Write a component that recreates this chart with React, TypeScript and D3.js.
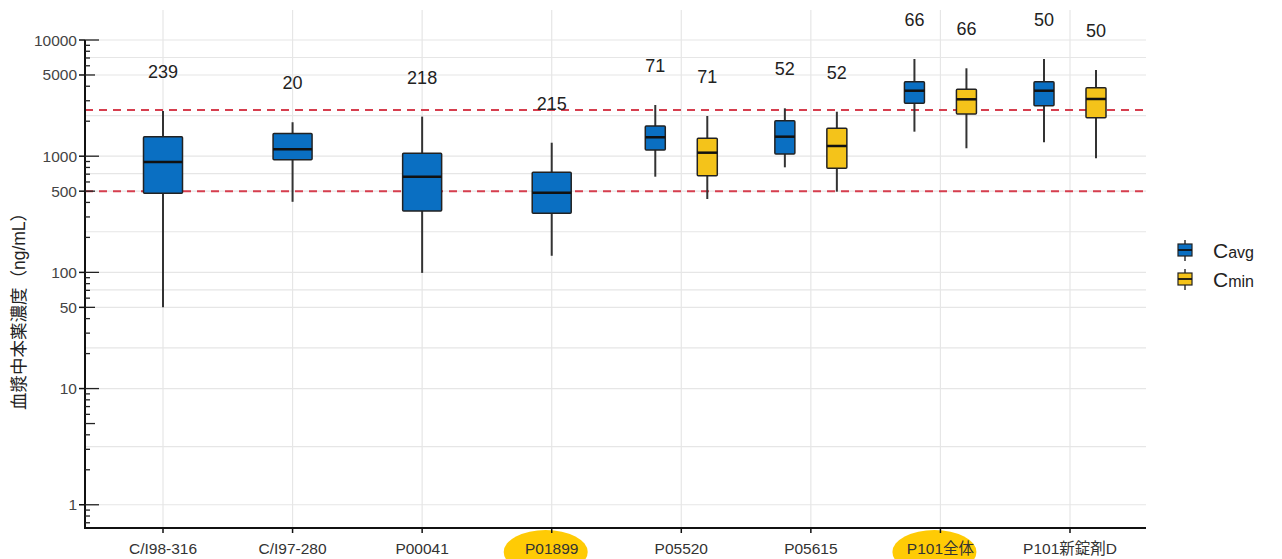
import React, { useEffect, useRef } from 'react';
import * as d3 from 'd3';

// categories on the x axis
const categories = [
  'C/I98-316',
  'C/I97-280',
  'P00041',
  'P01899',
  'P05520',
  'P05615',
  'P101全体',
  'P101新錠剤D',
];

// highlighted labels (yellow ellipse behind)
const highlighted = ['P01899', 'P101全体'];

// [min, q1, median, q3, max] per category
const cavgStats: number[][] = [
  [50, 480, 890, 1470, 2450],
  [405, 930, 1150, 1570, 1960],
  [99, 338, 666, 1060, 2190],
  [139, 323, 485, 727, 1306],
  [666, 1131, 1455, 1820, 2759],
  [802, 1045, 1472, 2022, 2583],
  [1626, 2853, 3661, 4375, 6864],
  [1317, 2721, 3661, 4375, 6864],
];

const cminStats: (number[] | null)[] = [
  null,
  null,
  null,
  null,
  [428, 680, 1072, 1426, 2218],
  [495, 787, 1224, 1738, 2414],
  [1170, 2308, 3088, 3764, 5708],
  [959, 2145, 3107, 3886, 5520],
];

const cavgN = [239, 20, 218, 215, 71, 52, 66, 50];
const cminN: (number | null)[] = [null, null, null, null, 71, 52, 66, 50];

// y axis breaks and reference lines
const yTickValues = [1, 10, 50, 100, 500, 1000, 5000, 10000];
const refLines = [500, 2500];

const legendItems = [
  { head: 'C', tail: 'avg', color: '#0a6fc2' },
  { head: 'C', tail: 'min', color: '#f4c31a' },
];

const BLUE = '#0a6fc2';
const YELLOW = '#f4c31a';
const FONT = '"Liberation Sans", Arial, "Noto Sans CJK JP", sans-serif';

const BoxChart: React.FC = () => {
  const svgRef = useRef<SVGSVGElement>(null);

  useEffect(() => {
    if (!svgRef.current) return;
    const width = 1282;
    const height = 559;
    const left = 85;
    const right = 1146;
    const top = 40;
    const bottom = 528;

    const svg = d3.select(svgRef.current).attr('width', width).attr('height', height);
    svg.selectAll('*').remove();

    const y = d3.scaleLog().domain([Math.pow(10, -0.2), 10000]).range([bottom, top]);
    const x = d3.scalePoint<string>().domain(categories).range([163, 1070]);

    // minor grid at midpoints (log space) between breaks
    const logBreaks = yTickValues.map((v) => Math.log10(v));
    const minorGrid = logBreaks.slice(1).map((b, i) => Math.pow(10, (b + logBreaks[i]) / 2));

    const grid = svg.append('g').attr('stroke', '#e6e6e6').attr('stroke-width', 1.2);
    grid
      .selectAll('.h')
      .data([...yTickValues, ...minorGrid])
      .enter()
      .append('line')
      .attr('x1', left)
      .attr('x2', right)
      .attr('y1', (d) => y(d))
      .attr('y2', (d) => y(d));
    grid
      .selectAll('.v')
      .data(categories)
      .enter()
      .append('line')
      .attr('x1', (d) => x(d) ?? 0)
      .attr('x2', (d) => x(d) ?? 0)
      .attr('y1', 10)
      .attr('y2', bottom);

    // reference lines
    svg
      .append('g')
      .selectAll('line')
      .data(refLines)
      .enter()
      .append('line')
      .attr('x1', left)
      .attr('x2', right)
      .attr('y1', (d) => y(d))
      .attr('y2', (d) => y(d))
      .attr('stroke', '#d63e4e')
      .attr('stroke-width', 2)
      .attr('stroke-dasharray', '8,6');

    // boxes
    const drawBox = (cx: number, w: number, s: number[], fill: string) => {
      const g = svg.append('g');
      g.append('line')
        .attr('x1', cx)
        .attr('x2', cx)
        .attr('y1', y(s[0]))
        .attr('y2', y(s[4]))
        .attr('stroke', '#333')
        .attr('stroke-width', 2);
      g.append('rect')
        .attr('x', cx - w / 2)
        .attr('y', y(s[3]))
        .attr('width', w)
        .attr('height', y(s[1]) - y(s[3]))
        .attr('rx', 1)
        .attr('fill', fill)
        .attr('stroke', '#222')
        .attr('stroke-width', 1.5);
      g.append('line')
        .attr('x1', cx - w / 2)
        .attr('x2', cx + w / 2)
        .attr('y1', y(s[2]))
        .attr('y2', y(s[2]))
        .attr('stroke', '#111')
        .attr('stroke-width', 2.5);
    };

    const drawN = (cx: number, hi: number, n: number) => {
      svg
        .append('text')
        .attr('x', cx)
        .attr('y', y(hi) - 33)
        .attr('text-anchor', 'middle')
        .attr('font-family', FONT)
        .attr('font-size', 18)
        .attr('fill', '#222')
        .text(n);
    };

    categories.forEach((c, i) => {
      const cx = x(c) ?? 0;
      const cmin = cminStats[i];
      if (cmin) {
        drawBox(cx - 26, 20, cavgStats[i], BLUE);
        drawBox(cx + 26, 20, cmin, YELLOW);
        drawN(cx - 26, cavgStats[i][4], cavgN[i]);
        drawN(cx + 26, cmin[4], cminN[i] as number);
      } else {
        drawBox(cx, 39, cavgStats[i], BLUE);
        drawN(cx, cavgStats[i][4], cavgN[i]);
      }
    });

    // y axis
    const yAxis = svg.append('g');
    yAxis
      .append('line')
      .attr('x1', left)
      .attr('x2', left)
      .attr('y1', top)
      .attr('y2', bottom + 1)
      .attr('stroke', '#111')
      .attr('stroke-width', 2);
    yAxis
      .selectAll('.tick')
      .data(yTickValues)
      .enter()
      .append('line')
      .attr('x1', left - 6)
      .attr('x2', left)
      .attr('y1', (d) => y(d))
      .attr('y2', (d) => y(d))
      .attr('stroke', '#111')
      .attr('stroke-width', 1.5);
    yAxis
      .selectAll('.lbl')
      .data(yTickValues)
      .enter()
      .append('text')
      .attr('x', left - 8)
      .attr('y', (d) => y(d) + 5.5)
      .attr('text-anchor', 'end')
      .attr('font-family', FONT)
      .attr('font-size', 15.5)
      .attr('fill', '#444')
      .text((d) => d);

    // log ticks inside
    const logTicks: number[] = [];
    for (let e = 0; e <= 4; e++) {
      for (let m = 1; m <= 9; m++) {
        const v = m * Math.pow(10, e);
        if (v <= 10000) logTicks.push(v);
      }
    }
    [0.7, 0.8, 0.9].forEach((v) => logTicks.push(v));
    yAxis
      .selectAll('.lt')
      .data(logTicks)
      .enter()
      .append('line')
      .attr('x1', left)
      .attr('x2', (d) => {
        const m = Math.round(d / Math.pow(10, Math.floor(Math.log10(d) + 1e-9)));
        return left + (m === 1 ? 14 : m === 5 ? 10 : 5);
      })
      .attr('y1', (d) => y(d))
      .attr('y2', (d) => y(d))
      .attr('stroke', '#222')
      .attr('stroke-width', 1.3);

    // y title
    svg
      .append('text')
      .attr('transform', `translate(25,307) rotate(-90)`)
      .attr('text-anchor', 'middle')
      .attr('font-family', FONT)
      .attr('font-size', 17.5)
      .attr('fill', '#222')
      .text('血漿中本薬濃度（ng/mL）');

    // highlight ellipses
    svg
      .append('g')
      .selectAll('ellipse')
      .data(highlighted)
      .enter()
      .append('ellipse')
      .attr('cx', (d) => (x(d) ?? 0) - 6)
      .attr('cy', 552)
      .attr('rx', 42)
      .attr('ry', 22)
      .attr('fill', '#ffcb05');

    // x axis
    const xAxis = svg.append('g');
    xAxis
      .append('line')
      .attr('x1', left - 1)
      .attr('x2', right)
      .attr('y1', bottom)
      .attr('y2', bottom)
      .attr('stroke', '#111')
      .attr('stroke-width', 2);
    xAxis
      .selectAll('.xt')
      .data(categories)
      .enter()
      .append('line')
      .attr('x1', (d) => x(d) ?? 0)
      .attr('x2', (d) => x(d) ?? 0)
      .attr('y1', bottom)
      .attr('y2', bottom + 5)
      .attr('stroke', '#111')
      .attr('stroke-width', 1.5);
    xAxis
      .selectAll('.xl')
      .data(categories)
      .enter()
      .append('text')
      .attr('x', (d) => x(d) ?? 0)
      .attr('y', 554)
      .attr('text-anchor', 'middle')
      .attr('font-family', FONT)
      .attr('font-size', 15.5)
      .attr('fill', '#333')
      .text((d) => d);

    // legend
    const legend = svg.append('g').attr('transform', 'translate(1185,250)');
    legendItems.forEach((item, i) => {
      const g = legend.append('g').attr('transform', `translate(0,${i * 29})`);
      g.append('line')
        .attr('x1', 0)
        .attr('x2', 0)
        .attr('y1', -10)
        .attr('y2', 11)
        .attr('stroke', '#333')
        .attr('stroke-width', 1.5);
      g.append('rect')
        .attr('x', -7)
        .attr('y', -6)
        .attr('width', 14)
        .attr('height', 12)
        .attr('fill', item.color)
        .attr('stroke', '#222')
        .attr('stroke-width', 1.2);
      g.append('line')
        .attr('x1', -7)
        .attr('x2', 7)
        .attr('y1', 0)
        .attr('y2', 0)
        .attr('stroke', '#111')
        .attr('stroke-width', 1.8);
      const t = g
        .append('text')
        .attr('x', 28)
        .attr('y', 8)
        .attr('font-family', FONT)
        .attr('fill', '#222');
      t.append('tspan').attr('font-size', 21).text(item.head);
      t.append('tspan').attr('font-size', 16).text(item.tail);
    });
  }, []);

  return (
    <svg ref={svgRef} style={{ position: 'absolute', left: 0, top: 0, display: 'block' }}></svg>
  );
};

export default function App() {
  return <BoxChart />;
}
